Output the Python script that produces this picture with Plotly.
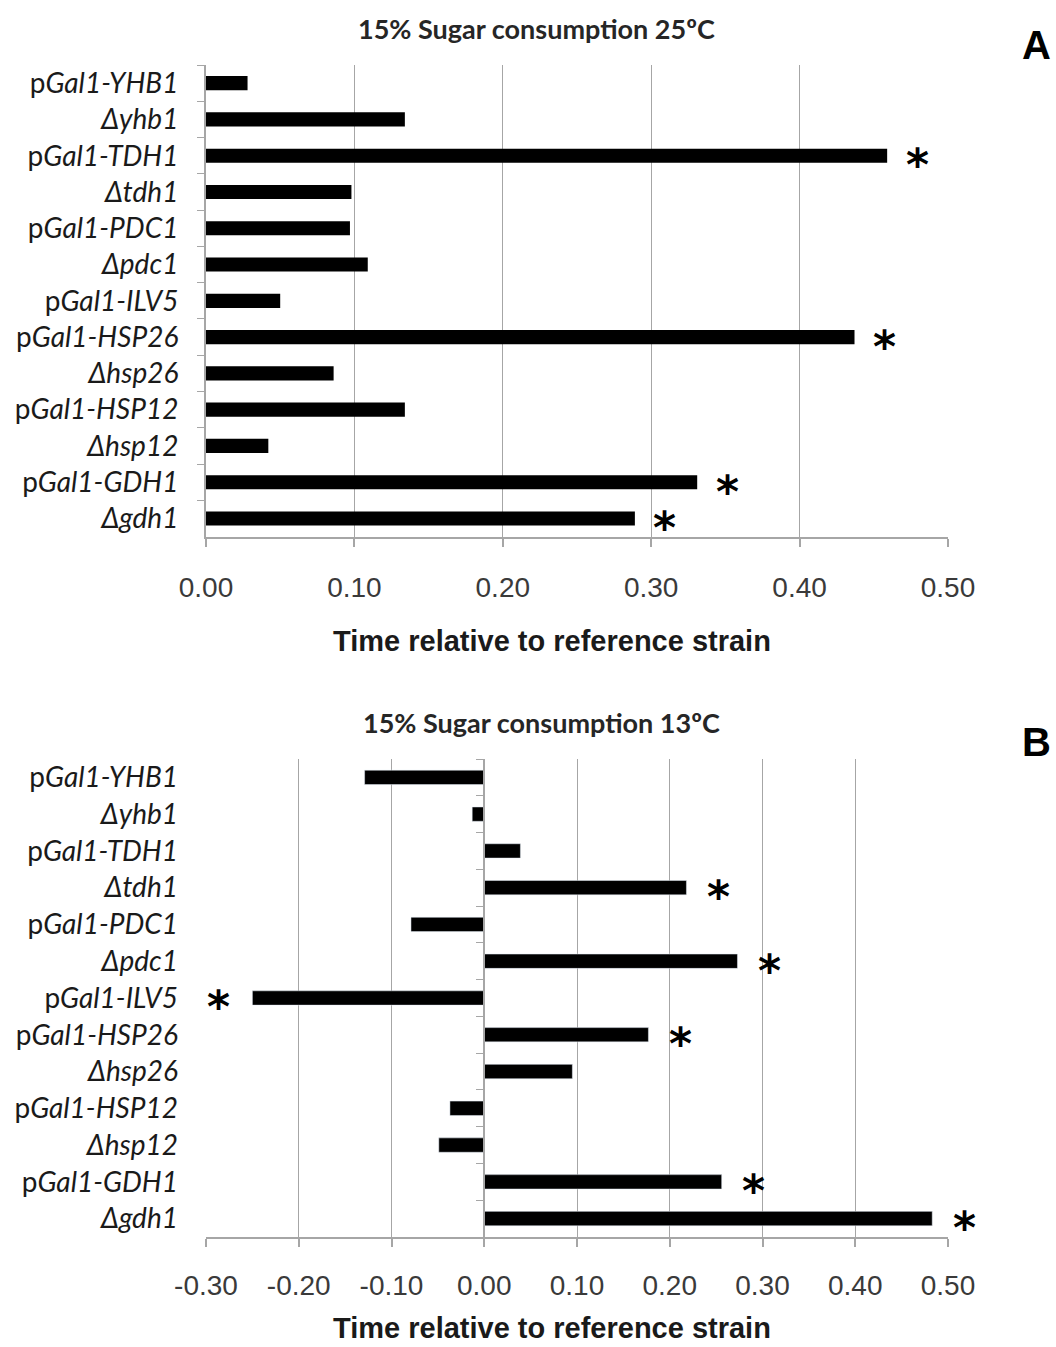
import plotly.graph_objects as go

strains = ["pGal1-YHB1", "Δyhb1", "pGal1-TDH1", "Δtdh1", "pGal1-PDC1", "Δpdc1",
           "pGal1-ILV5", "pGal1-HSP26", "Δhsp26", "pGal1-HSP12", "Δhsp12",
           "pGal1-GDH1", "Δgdh1"]
time_25C = [0.028, 0.134, 0.459, 0.098, 0.097, 0.109, 0.050, 0.437, 0.086, 0.134, 0.042, 0.331, 0.289]
sig_25C = [False, False, True, False, False, False, False, True, False, False, False, True, True]
time_13C = [-0.129, -0.013, 0.039, 0.218, -0.079, 0.273, -0.250, 0.177, 0.095, -0.037, -0.049, 0.256, 0.483]
sig_13C = [False, False, False, True, False, True, True, True, False, False, False, True, True]
ticks_a = [0.0, 0.1, 0.2, 0.3, 0.4, 0.5]
ticks_b = [-0.3, -0.2, -0.1, 0.0, 0.1, 0.2, 0.3, 0.4, 0.5]

title_a = "15% Sugar consumption 25ºC"
title_b = "15% Sugar consumption 13ºC"
x_title = "Time relative to reference strain"


def fmt(name):
    if name.startswith("p"):
        return "p<i>" + name[1:] + "</i>"
    return "<i>" + name + "</i>"


labels = [fmt(s) for s in strains]

W, H = 1056, 1347
def px(x):
    return x / W
def py(y):
    return 1 - y / H

xdom = [px(206), px(948)]
ydomA = [py(537), py(65)]
ydomB = [py(1237), py(759)]

GRID = "#a6a6a6"
LBL_FONT = dict(family="Lato", size=28, color="#1a1a1a")
TICK_FONT = dict(family="Liberation Sans", size=28, color="#3a3a3a")
BAR_W = 0.39

fig = go.Figure()
fig.add_trace(go.Bar(x=time_25C, y=labels, orientation="h", xaxis="x", yaxis="y",
                     marker=dict(color="black", line=dict(width=0)), width=BAR_W,
                     showlegend=False, hoverinfo="x+y"))
fig.add_trace(go.Bar(x=time_13C, y=labels, orientation="h", xaxis="x2", yaxis="y2",
                     marker=dict(color="black", line=dict(width=0)), width=BAR_W,
                     showlegend=False, hoverinfo="x+y"))
# invisible copy to carry the category axis drawn at x = 0 in panel B
fig.add_trace(go.Bar(x=time_13C, y=labels, orientation="h", xaxis="x2", yaxis="y3",
                     marker=dict(color="rgba(0,0,0,0)"), width=BAR_W,
                     showlegend=False, hoverinfo="skip"))

xr_b = [ticks_b[0], ticks_b[-1]]
zero_pos = xdom[0] + (0 - xr_b[0]) / (xr_b[1] - xr_b[0]) * (xdom[1] - xdom[0])

common_x = dict(showgrid=True, gridcolor=GRID, gridwidth=1, showline=True, linecolor=GRID,
                linewidth=2, ticks="outside", ticklen=8, tickcolor=GRID, tickwidth=1.5,
                tickfont=TICK_FONT, zeroline=False,
                domain=xdom, fixedrange=True, automargin=False)

fig.update_layout(
    width=W, height=H, margin=dict(l=0, r=0, t=0, b=0, autoexpand=False),
    paper_bgcolor="white", plot_bgcolor="white", showlegend=False,
    xaxis=dict(**common_x, anchor="y", range=[ticks_a[0], ticks_a[-1]], ticklabelstandoff=16,
               tickmode="array", tickvals=ticks_a, ticktext=[f"{v:.2f}" for v in ticks_a]),
    yaxis=dict(domain=ydomA, anchor="x", type="category", autorange="reversed",
               showline=True, linecolor=GRID, linewidth=2, ticks="outside", ticklen=7,
               tickcolor=GRID, tickson="boundaries", tickfont=LBL_FONT, showgrid=False,
               ticklabelstandoff=20, automargin=False),
    xaxis2=dict(**common_x, anchor="y2", range=xr_b, tickmode="array", tickvals=ticks_b,
                ticklabelstandoff=14, ticktext=[f"{v:.2f}" for v in ticks_b]),
    yaxis2=dict(domain=ydomB, anchor="x2", type="category", autorange="reversed",
                showline=False, ticks="", tickfont=LBL_FONT, showgrid=False,
                ticklabelstandoff=27, automargin=False),
    yaxis3=dict(domain=ydomB, anchor="free", position=zero_pos, overlaying="y2",
                type="category", autorange="reversed", showline=True, linecolor=GRID,
                linewidth=2, ticks="outside", ticklen=7, tickcolor=GRID,
                tickson="boundaries", showticklabels=False, showgrid=False,
                automargin=False),
    bargap=0.6,
)

STAR_FONT = dict(family="DejaVu Sans", size=44, color="black")
ann = []
for v, lab, s in zip(time_25C, labels, sig_25C):
    if s:
        ann.append(dict(x=v, y=lab, xref="x", yref="y", text="<b>*</b>", showarrow=False,
                        xshift=30 if v >= 0 else -30, yshift=-9, font=STAR_FONT))
for v, lab, s in zip(time_13C, labels, sig_13C):
    if s:
        ann.append(dict(x=v, y=lab, xref="x2", yref="y2", text="<b>*</b>", showarrow=False,
                        xshift=32 if v >= 0 else -34, yshift=-9, font=STAR_FONT))

TITLE_FONT = dict(family="Lato", size=27, color="#262626")
AXT_FONT = dict(family="Liberation Sans", size=29, color="#1a1a1a")
PANEL_FONT = dict(family="Liberation Sans", size=40, color="black")
ann += [
    dict(x=px(536), y=py(28), xref="paper", yref="paper", text="<b>" + title_a + "</b>",
         showarrow=False, font=TITLE_FONT, xanchor="center", yanchor="middle"),
    dict(x=px(541), y=py(722), xref="paper", yref="paper", text="<b>" + title_b + "</b>",
         showarrow=False, font=TITLE_FONT, xanchor="center", yanchor="middle"),
    dict(x=px(552), y=py(641), xref="paper", yref="paper", text="<b>" + x_title + "</b>",
         showarrow=False, font=AXT_FONT, xanchor="center", yanchor="middle"),
    dict(x=px(552), y=py(1346), xref="paper", yref="paper", text="<b>" + x_title + "</b>",
         showarrow=False, font=AXT_FONT, xanchor="center", yanchor="bottom"),
    dict(x=px(1036), y=py(45), xref="paper", yref="paper", text="<b>A</b>",
         showarrow=False, font=PANEL_FONT, xanchor="center", yanchor="middle"),
    dict(x=px(1036), y=py(742), xref="paper", yref="paper", text="<b>B</b>",
         showarrow=False, font=PANEL_FONT, xanchor="center", yanchor="middle"),
]
fig.update_layout(annotations=ann)

fig.write_html("out.html")
